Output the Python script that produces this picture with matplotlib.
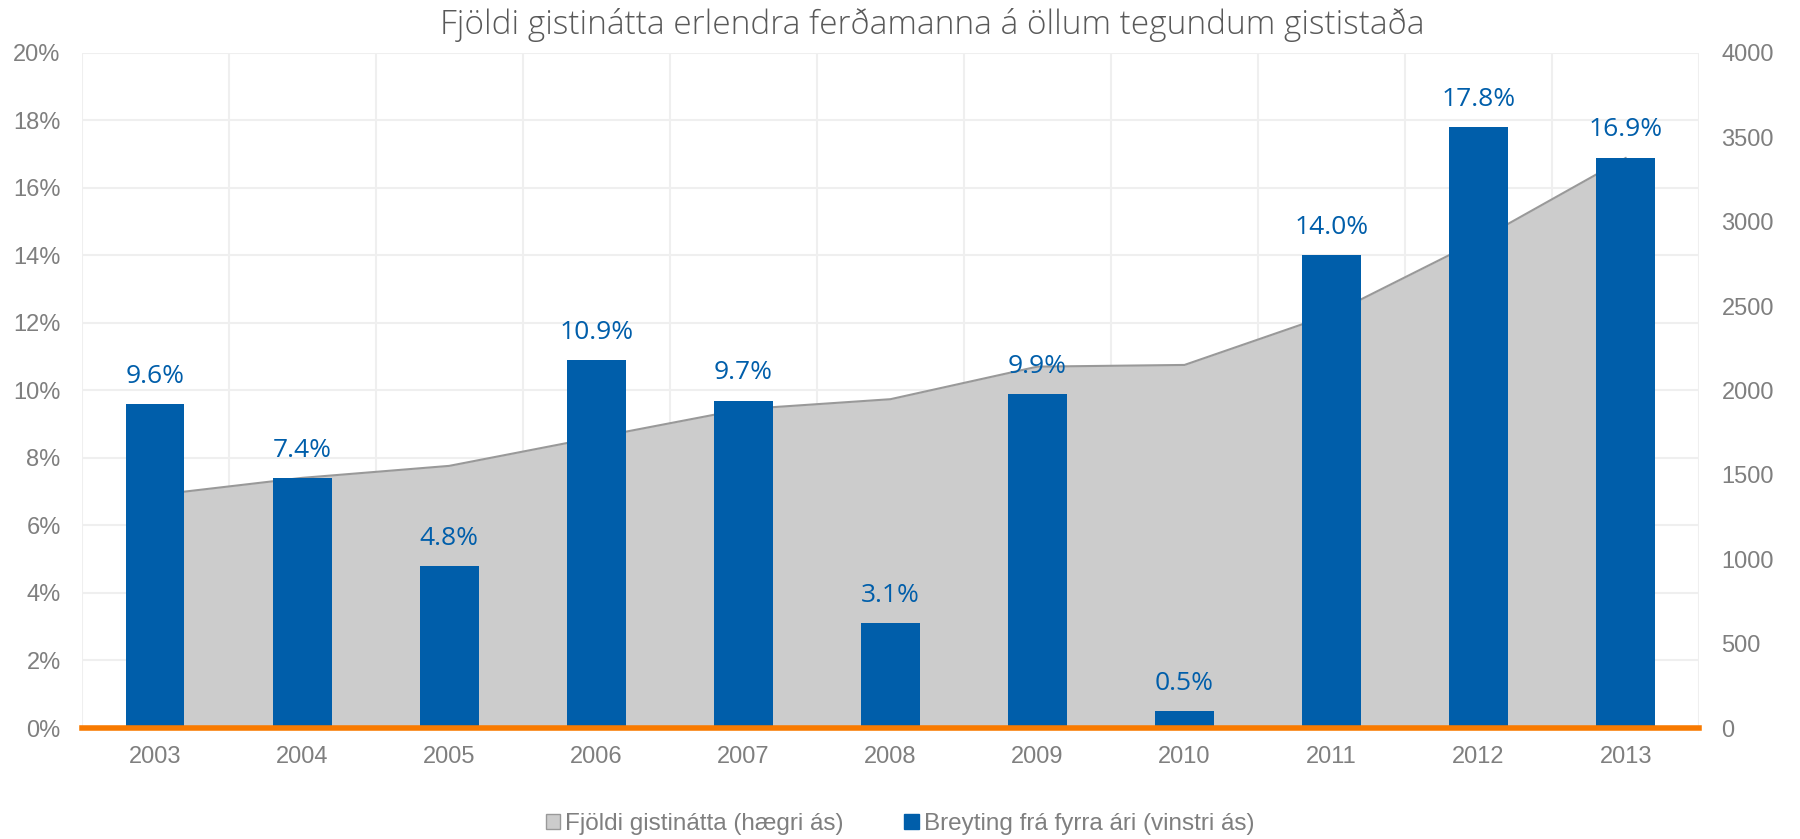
import matplotlib
matplotlib.use("Agg")
import matplotlib.pyplot as plt
import numpy as np
from matplotlib.patches import Patch

years = ['2003', '2004', '2005', '2006', '2007', '2008', '2009', '2010', '2011', '2012', '2013']
change_pct = [9.6, 7.4, 4.8, 10.9, 9.7, 3.1, 9.9, 0.5, 14.0, 17.8, 16.9]
nights = [1380, 1482, 1553, 1722, 1889, 1948, 2141, 2151, 2452, 2889, 3377]

blue = '#005EAA'
gray_txt = '#7F7F7F'

fig = plt.figure(figsize=(18, 8.39), dpi=100)
ax = fig.add_axes([0.0453, 0.1323, 0.8987, 0.8047])
ax2 = ax.twinx()

x = np.arange(len(years))

# right axis goes behind: grid + area, bars on top
ax.set_zorder(2)
ax.patch.set_visible(False)
ax2.set_zorder(1)

ax2.set_ylim(0, 4000)
for v in np.arange(400, 4001, 400):
    ax2.axhline(v, color='#EFEFEF', lw=1.5, zorder=0)
for b in np.arange(-0.5, len(years), 1.0):
    ax2.axvline(b, color='#EFEFEF', lw=1.5, zorder=0)
ax2.fill_between(x, nights, color='#CCCCCC', zorder=1, lw=0)
ax2.plot(x, nights, color='#999999', lw=1.5, zorder=2)

ax.bar(x, change_pct, width=0.4, color=blue, zorder=3)
for xi, v in zip(x, change_pct):
    ax.text(xi, v + 0.45, f'{v:.1f}%', ha='center', va='bottom', color=blue,
            fontsize=19, family='Open Sans')
ax.axhline(0, color='#F87A00', lw=4, zorder=4, clip_on=False)

ax.set_xlim(-0.5, len(years) - 0.5)
ax.set_ylim(0, 20)
ax.set_yticks(np.arange(0, 21, 2))
ax.set_yticklabels([f'{t}%' for t in range(0, 21, 2)])
ax.set_xticks(x)
ax.set_xticklabels(years)
ax2.set_yticks(np.arange(0, 4001, 500))

for a in (ax, ax2):
    for s in a.spines.values():
        s.set_visible(False)
    a.tick_params(length=0, colors=gray_txt, labelsize=17)
    for lab in a.get_xticklabels() + a.get_yticklabels():
        lab.set_family('Liberation Sans')
ax.tick_params(axis='x', pad=13)
ax.tick_params(axis='y', pad=15)
ax2.tick_params(axis='y', pad=16)

fig.suptitle('Fjöldi gistinátta erlendra ferðamanna á öllum tegundum gististaða',
             x=0.518, y=0.99, fontsize=24, color='#595959', family='Open Sans',
             fontweight='light')

handles = [Patch(facecolor='#CCCCCC', edgecolor='#999999', lw=1),
           Patch(facecolor=blue, edgecolor=blue)]
leg = fig.legend(handles, ['Fjöldi gistinátta (hægri ás)', 'Breyting frá fyrra ári (vinstri ás)'],
                 loc='center', bbox_to_anchor=(0.5, 0.018), ncol=2, frameon=False,
                 prop={'family': 'Liberation Sans', 'size': 17.5},
                 handlelength=0.6, handleheight=0.6, handletextpad=0.2, columnspacing=2.5)
for t in leg.get_texts():
    t.set_color(gray_txt)

fig.savefig('out.png', dpi=100)
